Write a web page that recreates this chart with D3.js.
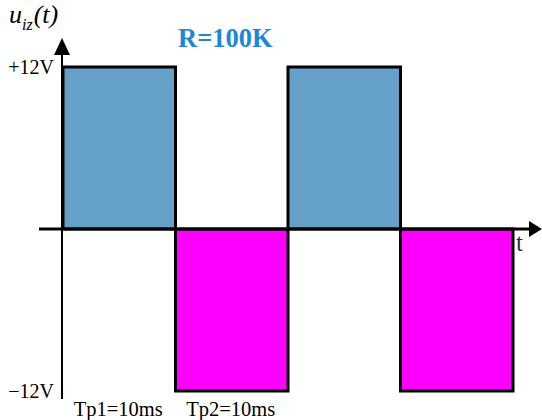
<!DOCTYPE html>
<html>
<head>
<meta charset="utf-8">
<script src="https://cdn.jsdelivr.net/npm/d3@7"></script>
<style>
  html, body { margin: 0; padding: 0; background: #fff; }
  svg { display: block; }
</style>
</head>
<body>
<svg id="chart" width="542" height="420"></svg>
<script>
// Square-wave output voltage: each half period is 10 ms at ±12 V
const segStart = [0, 10, 20, 30];          // ms
const segEnd   = [10, 20, 30, 40];         // ms
const segValue = [12, -12, 12, -12];       // V
const tickValues = [12, -12];
const tickLabels = ["+12V", "−12V"];
const periodLabels = ["Tp1=10ms", "Tp2=10ms"];
const periodMid = [5, 15];                 // ms, centre of each labelled half period

const svg = d3.select("#chart");
const x = d3.scaleLinear().domain([0, 40]).range([63, 513]);
const y = d3.scaleLinear().domain([-12, 12]).range([391, 67]);

const posColor = "#64a0c8", negColor = "#ff00ff";
const serif = "'Liberation Serif', 'Times New Roman', serif";

// Pulses
const segs = segStart.map((s, i) => ({ s, e: segEnd[i], v: segValue[i] }));
svg.append("g").selectAll("rect")
  .data(segs)
  .join("rect")
  .attr("x", d => x(d.s))
  .attr("y", d => y(Math.max(0, d.v)))
  .attr("width", d => x(d.e) - x(d.s))
  .attr("height", d => Math.abs(y(d.v) - y(0)))
  .attr("fill", d => d.v > 0 ? posColor : negColor)
  .attr("stroke", "#000")
  .attr("stroke-width", 3);

// Axes with arrowheads
const ax = svg.append("g");
ax.append("line")
  .attr("x1", 39).attr("x2", 532)
  .attr("y1", y(0)).attr("y2", y(0))
  .attr("stroke", "#000").attr("stroke-width", 3);
ax.append("path")
  .attr("d", `M542,${y(0)} L529,${y(0) - 8} L529,${y(0) + 8} Z`)
  .attr("fill", "#000");
ax.append("line")
  .attr("x1", x(0) - 1).attr("x2", x(0) - 1)
  .attr("y1", 50).attr("y2", 399)
  .attr("stroke", "#000").attr("stroke-width", 2);
ax.append("path")
  .attr("d", `M${x(0) - 1},38 L${x(0) - 9},55 L${x(0) + 7},55 Z`)
  .attr("fill", "#000");

// Voltage tick labels
const yAxis = d3.axisLeft(y)
  .tickValues(tickValues)
  .tickFormat((d, i) => tickLabels[i])
  .tickSize(0)
  .tickPadding(8);
const yg = svg.append("g").attr("transform", `translate(${x(0) - 1},0)`).call(yAxis);
yg.select(".domain").remove();
yg.selectAll("text")
  .attr("font-family", serif)
  .attr("font-size", 20)
  .attr("fill", "#000");

// Period labels under the time axis
svg.append("g").selectAll("text")
  .data(periodLabels)
  .join("text")
  .attr("x", (d, i) => x(periodMid[i]) - 1)
  .attr("y", 416)
  .attr("text-anchor", "middle")
  .attr("font-family", serif)
  .attr("font-size", 20.5)
  .attr("fill", "#000")
  .text(d => d);

// Axis names
const yl = svg.append("text")
  .attr("x", 9).attr("y", 23)
  .attr("font-family", serif)
  .attr("font-style", "italic")
  .attr("font-size", 26)
  .attr("fill", "#000");
yl.append("tspan").text("u");
yl.append("tspan").attr("font-size", 16).attr("dy", 7).text("iz");
yl.append("tspan").attr("dy", -7).attr("dx", 1).text("(t)");

svg.append("text")
  .attr("x", 516).attr("y", 251)
  .attr("font-family", serif)
  .attr("font-size", 25)
  .attr("fill", "#1c2a58")
  .text("t");

// Title
svg.append("text")
  .attr("x", 178).attr("y", 47)
  .attr("font-family", serif)
  .attr("font-weight", "bold")
  .attr("font-size", 26.5)
  .attr("fill", "#1e86d6")
  .text("R=100K");
</script>
</body>
</html>
